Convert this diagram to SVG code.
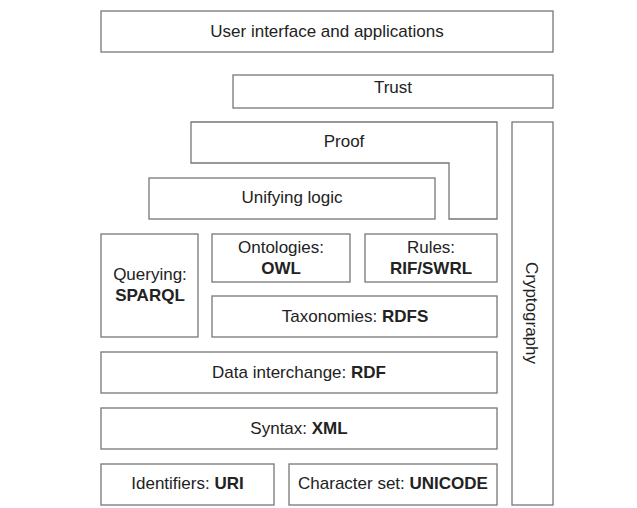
<svg xmlns="http://www.w3.org/2000/svg" width="637" height="508" viewBox="0 0 637 508">
<style>
.b{fill:#fff;stroke:#777;stroke-width:1.3}
text{font-family:"Liberation Sans",Arial,sans-serif;font-size:17px;fill:#222;text-anchor:middle}
.k{font-weight:bold}
</style>
<rect width="637" height="508" fill="#fff"/>
<g id="ui"><rect class="b" x="101" y="11" width="452" height="41"/><text x="327" y="37">User interface and applications</text></g>
<g id="trust"><rect class="b" x="233" y="75" width="320" height="33"/><text x="393" y="93">Trust</text></g>
<g id="proof"><path class="b" d="M191 122H497V219H449V163H191Z"/><text x="344" y="147">Proof</text></g>
<g id="crypto"><rect class="b" x="512" y="122" width="41" height="383"/><text transform="translate(526 313) rotate(90)">Cryptography</text></g>
<g id="logic"><rect class="b" x="149" y="178" width="286" height="41"/><text x="292" y="203">Unifying logic</text></g>
<g id="query"><rect class="b" x="101" y="234" width="97" height="103"/><text x="150" y="280">Querying:</text><text class="k" x="150" y="301">SPARQL</text></g>
<g id="owl"><rect class="b" x="212" y="234" width="138" height="48"/><text x="281" y="253">Ontologies:</text><text class="k" x="281" y="274">OWL</text></g>
<g id="rules"><rect class="b" x="365" y="234" width="132" height="48"/><text x="431" y="253">Rules:</text><text class="k" x="431" y="274">RIF/SWRL</text></g>
<g id="rdfs"><rect class="b" x="212" y="296" width="285" height="41"/><text x="355" y="322">Taxonomies: <tspan class="k">RDFS</tspan></text></g>
<g id="rdf"><rect class="b" x="101" y="352" width="396" height="41"/><text x="299" y="378">Data interchange: <tspan class="k">RDF</tspan></text></g>
<g id="xml"><rect class="b" x="101" y="408" width="396" height="41"/><text x="299" y="434">Syntax: <tspan class="k">XML</tspan></text></g>
<g id="uri"><rect class="b" x="101" y="464" width="173" height="41"/><text x="187.5" y="489">Identifiers: <tspan class="k">URI</tspan></text></g>
<g id="unicode"><rect class="b" x="289" y="464" width="208" height="41"/><text x="393" y="489">Character set: <tspan class="k">UNICODE</tspan></text></g>
<g id="connectors"></g>
</svg>
